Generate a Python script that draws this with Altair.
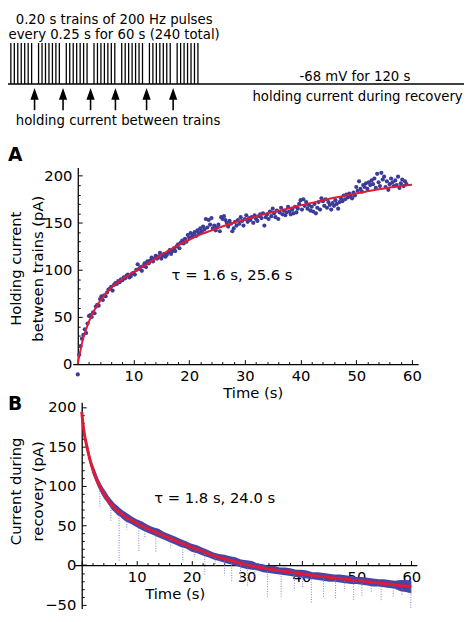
import altair as alt
import pandas as pd

FONT = "DejaVu Sans"
BLUE_A = "#3b3b98"
BLUE_B = "#4646a8"
SPIKE = "#7b7bc4"
RED = "#e01b34"

# ---------------- schematic (x unit = one 0.25 s train period, y unit = pulse height) ----
train_starts = [0, 1, 2, 3, 4, 5, 6]
pulse_offsets = [0, 0.125, 0.25, 0.375, 0.5, 0.625, 0.75]
pulse_low, pulse_high = 0.0, 1.0
baseline_from, baseline_to = -0.3, 16.35
arrow_pos = [0.855, 1.883, 2.876, 3.773, 4.897, 5.855]
arrow_head_level = -0.24
arrow_tail_level = -0.64
schem_labels = ["0.20 s trains of 200 Hz pulses",
                "every 0.25 s for 60 s (240 total)",
                "-68 mV for 120 s",
                "holding current during recovery",
                "holding current between trains"]
schem_label_u = [3.727, 3.727, 12.415, 12.51, 3.87]
schem_label_v = [1.475, 1.103, 0.072, -0.408, -1.007]

# ---------------- panel A: holding current between trains --------------------------------
A_vals = [
    -11, 10, 19, 27, 31, 37, 33, 43, 51, 52, 50, 55, 54, 61, 63, 62,
    69, 72, 68, 73, 72, 76, 79, 80, 82, 78, 84, 86, 85, 88, 87, 90,
    89, 92, 91, 94, 95, 92, 93, 96, 97, 95, 100, 106, 101, 103, 99, 104,
    107, 103, 109, 107, 110, 113, 109, 112, 115, 112, 114, 118,
    112, 115, 117, 114, 116, 119, 121, 117, 120, 123, 120, 125, 127, 123, 129, 131,
    128, 133, 130, 137, 134, 139, 135, 138, 140, 136, 142, 139, 144, 141, 146, 143,
    154, 145, 153, 148, 155, 144, 147, 142, 145, 148, 141, 156, 154, 157, 153, 150,
    146, 152, 149, 141, 144, 151, 147, 153, 149, 156, 152, 147, 154, 158, 151, 155,
    153, 156, 150, 158, 154, 152, 157, 159, 155, 160, 147, 156, 159, 154, 162, 157,
    165, 160, 156, 163, 154, 161, 166, 159, 163, 158, 161, 167, 162, 159, 164, 160,
    167, 161, 165, 170, 174, 164, 175, 168, 172, 165, 169, 163, 167, 162, 170, 160,
    166, 172, 164, 176, 173, 168, 175, 166, 172, 169, 164, 171, 168, 174, 170, 165,
    172, 176, 173, 179, 175, 180, 177, 181, 178, 176, 182, 179,
    188, 184, 194, 186, 183, 190, 188, 192,
    186, 193, 190, 195, 191, 197, 187, 202, 193, 189, 203, 196, 199, 188, 194, 185,
    191, 197, 193, 189, 195, 190, 199, 187, 192, 196, 189, 194, 191]
A_step = 0.25  # one train every 0.25 s
A_fit_t = [0, 0.25, 0.5, 0.75, 1, 1.5, 2, 2.5, 3, 3.5, 4, 5, 6, 7, 8, 9, 10, 12, 14, 16,
           18, 20, 22, 25, 28, 31, 34, 37, 40, 43, 46, 49, 52, 55, 58, 60]
A_fit_v = [0, 8, 15, 22, 28, 37, 45, 52, 57.5, 62.5, 67, 74.5, 81, 86, 90.5, 94, 97.5, 104.5,
           112, 119.5, 126, 132, 137.5, 144, 150, 155, 160, 164, 168.5, 172.5, 176.5, 180,
           183.5, 186.5, 189, 190.5]
A_x_labels = [10, 20, 30, 40, 50, 60]
A_y_labels = [0, 50, 100, 150, 200]
A_x_ticks = list(range(0, 61, 2))
A_y_ticks = list(range(0, 201, 10))

# ---------------- panel B: current during recovery ----------------------------------------
B_t = [0, 0.25, 0.5, 0.75, 1, 1.5, 2, 2.5, 3, 3.5, 4, 4.5, 5, 5.5, 6, 6.5, 7, 7.5, 8] + \
      list(range(9, 61))
B_fit = [194, 178, 165, 156, 148, 133, 122, 112, 104, 97, 91, 85.5, 80, 76, 72, 69, 66, 63.5, 61,
         57, 53, 49.5, 46, 43, 40, 37, 34, 31, 28, 25.5, 22.5, 20, 17.5, 14.5, 12, 10, 8, 6, 4, 2,
         0.5, -1, -2.5, -3.5, -5, -6, -7, -8, -9, -10, -11, -12, -13, -14, -14.5, -15.5, -16.5,
         -17, -18, -19, -19.5, -20, -21, -22, -22.5, -23.5, -24, -25, -26, -26.5, -27.5]
B_hi = [199, 185, 172, 162, 155, 140, 128, 119, 110, 103, 97, 92, 86, 82, 78, 75, 72, 69, 67,
        62, 58, 55, 51, 48, 46, 42, 39, 36, 33, 30, 27, 25, 22, 19, 16, 14, 13, 11, 10,
        7, 6, 5, 2, 1, -1, -1, -3, -3, -4, -6, -6, -7, -9, -9, -10, -11, -12, -12, -13,
        -14, -15, -15, -16, -17, -18, -18, -19, -20, -19, -19, -20]
B_lo = [188, 172, 159, 150, 142, 127, 115, 106, 98, 91, 85, 80, 75, 70, 67, 63, 61, 58, 55,
        52, 48, 44, 41, 38, 35, 32, 29, 26, 23, 21, 17, 15, 12, 10, 7, 5, 3, 1, -1,
        -3, -5, -6, -7, -9, -10, -11, -12, -13, -14, -15, -16, -17, -18, -19, -20, -21, -21,
        -22, -23, -24, -24, -25, -26, -27, -27, -28, -29, -30, -33, -34, -36]
spike_t = [3.3, 5.3, 6.8, 8.2, 10.4, 11.5, 13.5, 16.2, 18.4, 20.5, 22.4, 24.3, 26.0, 27.3, 28.9,
           30.2, 31.5, 33.8, 36.3, 38.7, 40.2, 41.8, 44.0, 46.2, 47.8, 49.5, 51.0, 52.7, 54.5,
           56.7, 58.3, 59.9]
spike_top = [100, 76, 66, 58, 50, 46, 40, 32, 26, 20, 14, 9, 6, 3, 0, -3, -5, -8, -11, -13, -14,
             -15, -17, -19, -20, -21, -22, -23, -24, -26, -27, -28]
spike_bottom = [74, 55, 5, 45, 16, 35, 17, 22, 3.5, 10, -13, -2, -13, -20, -21, -27, -15, -40,
                -40, -32, -28, -48, -40, -42, -33, -45, -40, -35, -46, -40, -38, -54]
B_x_labels = [10, 20, 30, 40, 50, 60]
B_y_labels = [-50, 0, 50, 100, 150, 200]
B_x_ticks = list(range(0, 61, 2))
B_y_ticks = list(range(-50, 201, 10))

# annotations (data coordinates of each panel)
A_note = {"t": [27.7], "v": [89.7], "label": ["τ = 1.6 s, 25.6 s"]}
A_letter = {"t": [-12.53], "v": [215.7], "label": ["A"]}
B_note = {"t": [24.2], "v": [79.0], "label": ["τ = 1.8 s, 24.0 s"]}
B_letter = {"t": [-13.42], "v": [196.3], "label": ["B"]}

# ---------------- scales (each panel placed by its own pixel range) -----------------------
W, H = 467, 606


def sc(dom, rng):
    return alt.Scale(domain=dom, range=rng, nice=False, zero=False)


XS, YS = sc([0, 16], [2.9, 454.1]), sc([0, 1], [72, 30.3])
XA, YA = sc([-0.9, 61.1], [65.9, 417.25]), sc([0, 208.7], [357, 157])
XB, YB = sc([-1.3, 61.0], [67.73, 415.99]), sc([-55, 206], [605.7, 395.9])


def ticksize(major_every):
    return {"condition": {"test": f"datum.value % {major_every} === 0", "value": 4.5},
            "value": 2.5}


# ---------------- schematic layers ----------------
pulses = pd.DataFrame([{"u": s + o, "lo": pulse_low, "hi": pulse_high}
                       for s in train_starts for o in pulse_offsets])
base = pd.DataFrame({"u0": [baseline_from], "u1": [baseline_to], "v": [0.0]})
arrows = pd.DataFrame({"u": arrow_pos, "head": [arrow_head_level] * len(arrow_pos),
                       "tail": [arrow_tail_level] * len(arrow_pos)})
stext = pd.DataFrame({"u": schem_label_u, "v": schem_label_v, "label": schem_labels})

s1 = alt.Chart(pulses).mark_rule(color="black", strokeWidth=1.3).encode(
    x=alt.X("u:Q", scale=XS, axis=None), y=alt.Y("lo:Q", scale=YS, axis=None), y2="hi:Q")
s2 = alt.Chart(base).mark_rule(color="black", strokeWidth=1.5).encode(
    x=alt.X("u0:Q", scale=XS, axis=None), x2="u1:Q", y=alt.Y("v:Q", scale=YS, axis=None))
s3 = alt.Chart(arrows).mark_rule(color="black", strokeWidth=1.6).encode(
    x=alt.X("u:Q", scale=XS, axis=None), y=alt.Y("tail:Q", scale=YS, axis=None), y2="head:Q")
s4 = alt.Chart(arrows).mark_point(shape="M0,-1L0.7,1L-0.7,1Z", filled=True, size=144,
                                  color="black", opacity=1).encode(
    x=alt.X("u:Q", scale=XS, axis=None), y=alt.Y("head:Q", scale=YS, axis=None))
s5 = alt.Chart(stext).mark_text(font=FONT, fontSize=13.5, align="center",
                                baseline="alphabetic", color="black").encode(
    x=alt.X("u:Q", scale=XS, axis=None), y=alt.Y("v:Q", scale=YS, axis=None), text="label:N")
schem = alt.layer(s1, s2, s3, s4, s5)

# ---------------- panel A layers ----------------
dfA = pd.DataFrame({"t": [i * A_step for i in range(len(A_vals))], "v": A_vals})
dfAfit = pd.DataFrame({"t": A_fit_t, "v": A_fit_v})

a1 = alt.Chart(dfA).mark_circle(size=18, color=BLUE_A, opacity=1).encode(
    x=alt.X("t:Q", scale=XA, axis=alt.Axis(
        orient="bottom", offset=-(H - 357), values=A_x_labels, ticks=False, labelPadding=5,
        domainWidth=1.3, title="Time (s)", titleX=249, titleY=33.8,
        titleBaseline="alphabetic", titleAlign="center")),
    y=alt.Y("v:Q", scale=YA, axis=alt.Axis(
        orient="left", offset=-71, values=A_y_labels, ticks=False, labelPadding=6,
        domainWidth=1.3, title=["Holding current", "between trains (pA)"], titleAngle=270,
        titleX=-58.5, titleY=259.5, titleBaseline="alphabetic", titleAlign="center",
        titleLineHeight=22.5)))
a2 = alt.Chart(dfAfit).mark_line(color=RED, strokeWidth=2, interpolate="monotone").encode(
    x=alt.X("t:Q", scale=XA, axis=alt.Axis(
        orient="top", offset=-357, values=A_x_ticks, labels=False, domain=False,
        tickSize=ticksize(10), title=None)),
    y=alt.Y("v:Q", scale=YA, axis=alt.Axis(
        orient="right", offset=-(W - 71), values=A_y_ticks, labels=False, domain=False,
        tickSize=ticksize(50), title=None)))
a3 = alt.Chart(pd.DataFrame(A_note)).mark_text(
    font=FONT, fontSize=15, align="center", baseline="alphabetic", color="black").encode(
    x=alt.X("t:Q", scale=XA, axis=None), y=alt.Y("v:Q", scale=YA, axis=None), text="label:N")
a4 = alt.Chart(pd.DataFrame(A_letter)).mark_text(
    font=FONT, fontSize=19, fontWeight="bold", align="left", baseline="alphabetic",
    color="black").encode(
    x=alt.X("t:Q", scale=XA, axis=None), y=alt.Y("v:Q", scale=YA, axis=None), text="label:N")
panelA = alt.layer(a1, a2, a3, a4).resolve_axis(x="independent", y="independent")

# ---------------- panel B layers ----------------
dfB = pd.DataFrame({"t": B_t, "fit": B_fit, "hi": B_hi, "lo": B_lo})
dfS = pd.DataFrame({"t": spike_t, "top": spike_top, "bottom": spike_bottom})

b1 = alt.Chart(dfB).mark_area(color=BLUE_B, opacity=1).encode(
    x=alt.X("t:Q", scale=XB, axis=alt.Axis(
        orient="bottom", offset=-(H - 561.5), values=B_x_labels, ticks=False,
        labelPadding=5, domainWidth=1.3, title="Time (s)", titleX=169.6, titleY=33.8,
        titleBaseline="alphabetic", titleAlign="center")),
    y=alt.Y("hi:Q", scale=YB, axis=alt.Axis(
        orient="left", offset=-75, values=B_y_labels, ticks=False, labelPadding=6,
        domainWidth=1.3, title=["Current during", "recovery (pA)"], titleAngle=270,
        titleX=-62.5, titleY=486, titleBaseline="alphabetic", titleAlign="center",
        titleLineHeight=22.5)),
    y2="lo:Q")
b2 = alt.Chart(dfS).mark_rule(color=SPIKE, strokeWidth=1, strokeDash=[1, 1.5]).encode(
    x=alt.X("t:Q", scale=XB, axis=None), y=alt.Y("top:Q", scale=YB, axis=None), y2="bottom:Q")
b3 = alt.Chart(dfB).mark_line(color=RED, strokeWidth=3, interpolate="monotone").encode(
    x=alt.X("t:Q", scale=XB, axis=alt.Axis(
        orient="top", offset=-561.5, values=B_x_ticks, labels=False, domain=False,
        tickSize=ticksize(10), title=None)),
    y=alt.Y("fit:Q", scale=YB, axis=alt.Axis(
        orient="right", offset=-(W - 75), values=B_y_ticks, labels=False, domain=False,
        tickSize=ticksize(50), title=None)))
b4 = alt.Chart(pd.DataFrame(B_note)).mark_text(
    font=FONT, fontSize=15, align="center", baseline="alphabetic", color="black").encode(
    x=alt.X("t:Q", scale=XB, axis=None), y=alt.Y("v:Q", scale=YB, axis=None), text="label:N")
b5 = alt.Chart(pd.DataFrame(B_letter)).mark_text(
    font=FONT, fontSize=19, fontWeight="bold", align="left", baseline="alphabetic",
    color="black").encode(
    x=alt.X("t:Q", scale=XB, axis=None), y=alt.Y("v:Q", scale=YB, axis=None), text="label:N")
panelB = alt.layer(b1, b2, b3, b4, b5).resolve_axis(x="independent", y="independent")

chart = alt.layer(schem, panelA, panelB).resolve_scale(
    x="independent", y="independent").resolve_axis(
    x="independent", y="independent").properties(
    width=W, height=H, padding=0, background="white",
    autosize=alt.AutoSizeParams(type="none")).configure_view(stroke=None).configure_axis(
    labelFont=FONT, labelFontSize=15, labelColor="black", titleFont=FONT, titleFontSize=15,
    titleFontWeight="normal", titleColor="black", domainColor="black", tickColor="black",
    tickWidth=1, grid=False, labelOverlap=False, labelFlush=False)

chart.save("out.html", embed_options={"renderer": "svg", "actions": False})
